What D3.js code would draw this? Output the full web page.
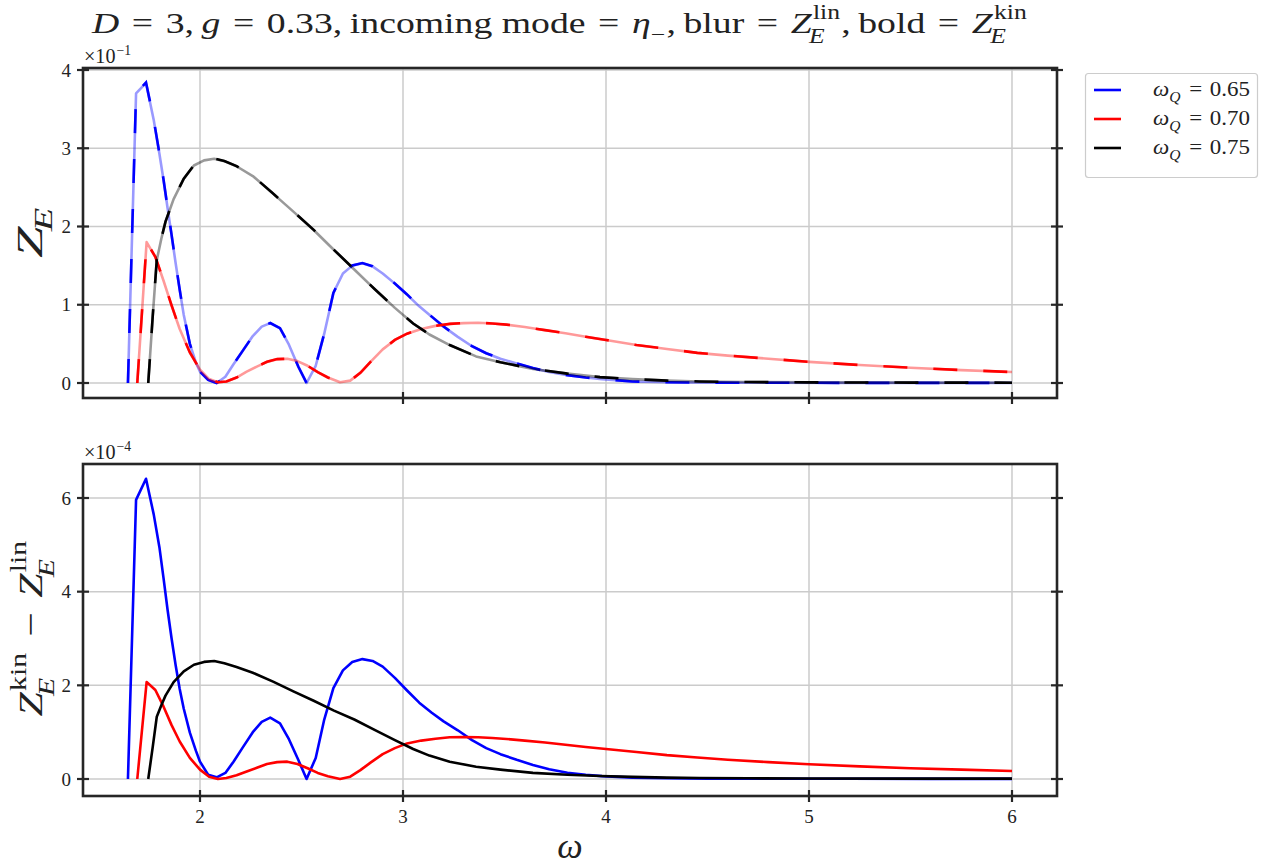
<!DOCTYPE html>
<html><head><meta charset="utf-8">
<script src="https://cdn.jsdelivr.net/npm/d3@7"></script>
<style>
html,body{margin:0;padding:0;background:#fff;}
text{font-family:"Liberation Serif","DejaVu Serif",serif;fill:#222;white-space:pre;}
</style></head>
<body><svg id="c" width="1271" height="868"></svg>
<script>
// ---------------- DATA ----------------
// omega_Q = 0.65 (blue)
const omega065 = [1.645,1.685,1.734,1.772,1.80,1.82,1.84,1.86,1.88,1.90,1.92,1.95,1.98,2.0,2.04,2.082,2.125,2.165,2.21,2.26,2.304,2.346,2.394,2.438,2.484,2.525,2.57,2.612,2.657,2.704,2.75,2.80,2.85,2.90,2.96,3.02,3.08,3.14,3.2,3.27,3.34,3.41,3.48,3.56,3.64,3.72,3.81,3.9,3.98,4.13,4.3,4.5,4.8,5.2,5.6,6.0];
// Z_E^lin in units of 1e-1
const zLin065 = [0,3.70,3.835,3.36,2.93,2.60,2.24,1.89,1.53,1.19,0.87,0.50,0.26,0.145,0.04,0.0,0.08,0.24,0.41,0.60,0.72,0.765,0.70,0.49,0.21,0,0.22,0.63,1.15,1.40,1.50,1.53,1.49,1.40,1.27,1.13,0.98,0.85,0.72,0.59,0.47,0.38,0.31,0.25,0.19,0.14,0.10,0.07,0.05,0.02,0.01,0.005,0.003,0.002,0.001,0.001];
// Z_E^kin - Z_E^lin in units of 1e-4
const dZ065 = [0,5.96,6.41,5.65,4.95,4.30,3.62,3.00,2.43,1.92,1.50,0.99,0.60,0.37,0.09,0.035,0.13,0.37,0.67,1.00,1.22,1.31,1.19,0.85,0.41,0,0.45,1.27,1.94,2.32,2.50,2.56,2.52,2.40,2.16,1.89,1.63,1.42,1.23,1.04,0.83,0.66,0.53,0.41,0.30,0.21,0.135,0.09,0.062,0.03,0.015,0.008,0.005,0.004,0.003,0.003];

// omega_Q = 0.70 (red)
const omega070 = [1.691,1.737,1.78,1.82,1.86,1.90,1.95,2.0,2.045,2.088,2.13,2.18,2.23,2.28,2.33,2.38,2.43,2.48,2.53,2.58,2.63,2.69,2.74,2.79,2.84,2.9,2.96,3.02,3.09,3.16,3.23,3.3,3.37,3.44,3.51,3.6,3.7,3.8,3.9,4.0,4.15,4.3,4.45,4.6,4.8,5.0,5.25,5.5,5.75,6.0];
const zLin070 = [0,1.80,1.61,1.31,0.99,0.69,0.39,0.17,0.05,0.01,0.02,0.07,0.145,0.21,0.27,0.305,0.31,0.28,0.22,0.14,0.07,0.01,0.03,0.13,0.27,0.43,0.55,0.63,0.69,0.73,0.755,0.765,0.77,0.76,0.745,0.715,0.675,0.635,0.59,0.55,0.485,0.435,0.385,0.35,0.31,0.27,0.23,0.195,0.165,0.14];
const dZ070 = [0,2.07,1.90,1.55,1.15,0.80,0.45,0.20,0.05,0.0,0.02,0.08,0.16,0.24,0.32,0.36,0.37,0.32,0.23,0.13,0.06,0.0,0.05,0.19,0.35,0.53,0.66,0.76,0.82,0.86,0.89,0.895,0.89,0.875,0.855,0.82,0.78,0.73,0.685,0.64,0.575,0.51,0.46,0.41,0.36,0.315,0.27,0.23,0.20,0.17];

// omega_Q = 0.75 (black)
const omega075 = [1.745,1.767,1.787,1.81,1.83,1.87,1.92,1.97,2.02,2.07,2.12,2.18,2.26,2.36,2.46,2.56,2.66,2.76,2.86,2.96,3.05,3.13,3.23,3.36,3.48,3.64,3.81,3.97,4.13,4.3,4.46,4.7,5.0,5.5,6.0];
const zLin075 = [0,0.85,1.57,1.85,2.06,2.35,2.61,2.78,2.845,2.865,2.835,2.77,2.645,2.42,2.19,1.955,1.70,1.45,1.20,0.96,0.76,0.62,0.485,0.34,0.265,0.18,0.12,0.075,0.05,0.03,0.02,0.012,0.008,0.005,0.004];
const dZ075 = [0,0.68,1.33,1.58,1.78,2.07,2.30,2.44,2.50,2.52,2.47,2.39,2.27,2.08,1.87,1.67,1.46,1.27,1.05,0.83,0.64,0.50,0.37,0.26,0.20,0.13,0.09,0.064,0.045,0.03,0.022,0.015,0.01,0.008,0.007];

const seriesLabels = ["0.65","0.70","0.75"];
const seriesColors = ["#0000ff","#ff0000","#000000"];
const xTicks = [2,3,4,5,6];
const yTicksTop = [0,1,2,3,4];
const yTicksBot = [0,2,4,6];
const topExponent = -1, botExponent = -4;

// ---------------- LAYOUT ----------------
const svg = d3.select("#c");
const L = 83, R = 1057;
const topBox = {t:68, b:398};
const botBox = {t:464, b:796};
const x = d3.scaleLinear().domain([1.4236, 6.2217]).range([L, R]);
const yTop = d3.scaleLinear().domain([-0.1917, 4.0256]).range([topBox.b, topBox.t]);
const yBot = d3.scaleLinear().domain([-0.363, 6.726]).range([botBox.b, botBox.t]);

const series = [
  {om: omega065, lin: zLin065, d: dZ065},
  {om: omega070, lin: zLin070, d: dZ070},
  {om: omega075, lin: zLin075, d: dZ075}
].map((s,i)=>({...s, color: seriesColors[i], label: seriesLabels[i]}));

const SP = "\u2004"; // math spacing around relations

// Math text helper (Computer-Modern-like layout approximated with Liberation Serif)
function mathText(parent, parts, size){
  const outer = parent.append("g");
  const g = outer.append("g");
  let cx = 0;
  parts.forEach(p=>{
    if (p.t){
      const t = g.append("text").attr("x",cx).attr("y",0)
        .style("font-size",size+"px").style("font-style",p.it?"italic":"normal").text(p.t);
      cx += t.node().getComputedTextLength();
    }
    if (p.sup || p.sub){
      let ws=0, wb=0;
      const ss = size*0.68;
      if (p.sup){
        const s = g.append("text").attr("x",cx+1).attr("y",-size*(p.sub?0.47:0.40))
          .style("font-size",ss+"px").text(p.sup);
        ws = s.node().getComputedTextLength();
      }
      if (p.sub){
        const s = g.append("text").attr("x",cx+(p.subdx||0)).attr("y",size*(p.sup?0.34:0.28))
          .style("font-size",ss+"px").style("font-style",p.subIt===false?"normal":"italic").text(p.sub);
        wb = s.node().getComputedTextLength() + (p.subdx||0);
      }
      cx += Math.max(ws+1,wb) + 1;
    }
  });
  return {outer, g, w: cx, fit(target){ g.attr("transform",`scale(${target/cx},1)`); this.w = target; return this; }};
}

function drawGrid(box, y, yTicks){
  const g = svg.append("g");
  g.selectAll(".gx").data(xTicks).join("line")
    .attr("x1",d=>x(d)).attr("x2",d=>x(d)).attr("y1",box.t).attr("y2",box.b)
    .attr("stroke","#cbcbcb").attr("stroke-width",1.5);
  g.selectAll(".gy").data(yTicks).join("line")
    .attr("x1",L).attr("x2",R).attr("y1",d=>y(d)).attr("y2",d=>y(d))
    .attr("stroke","#cbcbcb").attr("stroke-width",1.5);
  return g;
}
function drawFrame(box, y, yTicks, showXLabels){
  const g = svg.append("g");
  g.append("rect").attr("x",L).attr("y",box.t).attr("width",R-L).attr("height",box.b-box.t)
    .attr("fill","none").attr("stroke","#262626").attr("stroke-width",2.6);
  const tk = 6;
  yTicks.forEach(d=>{
    [L,R].forEach(xx=>{
      g.append("line").attr("x1",xx-tk).attr("x2",xx+tk).attr("y1",y(d)).attr("y2",y(d))
        .attr("stroke","#262626").attr("stroke-width",2.2);
    });
    g.append("text").attr("x",L-12).attr("y",y(d)).attr("dy","0.35em")
      .attr("text-anchor","end").style("font-size","19px").text(d);
  });
  xTicks.forEach(d=>{
    g.append("line").attr("x1",x(d)).attr("x2",x(d)).attr("y1",box.b-tk).attr("y2",box.b+tk)
      .attr("stroke","#262626").attr("stroke-width",2.2);
    if (showXLabels){
      g.append("text").attr("x",x(d)).attr("y",box.b+27).attr("text-anchor","middle")
        .style("font-size","19px").text(d);
    }
  });
  return g;
}

// ---------------- TOP PANEL ----------------
drawGrid(topBox, yTop, yTicksTop);
series.forEach(s=>{
  const linPts = s.om.map((o,i)=>({om:o, v:s.lin[i]}));
  // kin = lin + difference (difference in 1e-4, lin in 1e-1)
  const kinPts = s.om.map((o,i)=>({om:o, v:s.lin[i] + s.d[i]*Math.pow(10, botExponent-topExponent)}));
  const ln = d3.line().x(d=>x(d.om)).y(d=>yTop(d.v));
  svg.append("path").attr("d",ln(linPts)).attr("fill","none")
    .attr("stroke",s.color).attr("stroke-opacity",0.4).attr("stroke-width",2.6)
    .attr("stroke-linejoin","round");
  svg.append("path").attr("d",ln(kinPts)).attr("fill","none")
    .attr("stroke",s.color).attr("stroke-width",2.6).attr("stroke-dasharray","24,26");
});
drawFrame(topBox, yTop, yTicksTop, false);

// ---------------- BOTTOM PANEL ----------------
drawGrid(botBox, yBot, yTicksBot);
series.forEach(s=>{
  const pts = s.om.map((o,i)=>({om:o, v:s.d[i]}));
  const ln = d3.line().x(d=>x(d.om)).y(d=>yBot(d.v));
  svg.append("path").attr("d",ln(pts)).attr("fill","none")
    .attr("stroke",s.color).attr("stroke-width",2.6).attr("stroke-linejoin","round");
});
drawFrame(botBox, yBot, yTicksBot, true);

// ---------------- TEXTS ----------------
[[topBox, topExponent],[botBox, botExponent]].forEach(([b,e])=>{
  const m = mathText(svg, [{t:"×10", sup:"−"+Math.abs(e)}], 20).fit(48);
  m.outer.attr("transform",`translate(${L+1},${b.t-5})`);
});

// title
{
  const m = mathText(svg, [
    {t:"D",it:true},{t:SP+"="+SP+"3,\u2009"},{t:"g",it:true},{t:SP+"="+SP+"0.33,\u2009incoming mode"+SP+"="+SP},
    {t:"η",it:true, sub:"−", subIt:false},{t:",\u2009blur"+SP+"="+SP},
    {t:"Z",it:true, sup:"lin", sub:"E", subdx:-2},{t:",\u2009bold"+SP+"="+SP},
    {t:"Z",it:true, sup:"kin", sub:"E", subdx:-2}
  ], 30).fit(936);
  m.outer.attr("transform",`translate(${92},33)`);
}
// y label top
{
  const m = mathText(svg, [{t:"Z",it:true, sub:"E", subdx:-3}], 36).fit(52);
  m.outer.attr("transform",`translate(42,${(topBox.t+topBox.b)/2 - 1}) rotate(-90) translate(${-m.w/2},0)`);
}
// y label bottom
{
  const m = mathText(svg, [
    {t:"Z",it:true, sup:"kin", sub:"E", subdx:-3},{t:SP+"−"+SP},
    {t:"Z",it:true, sup:"lin", sub:"E", subdx:-3}
  ], 34).fit(177);
  m.outer.attr("transform",`translate(42,${(botBox.t+botBox.b)/2 - 2}) rotate(-90) translate(${-m.w/2},0)`);
}
// x label
{
  const m = mathText(svg, [{t:"ω",it:true}], 36);
  m.outer.attr("transform",`translate(${(L+R)/2 - m.w/2},858)`);
}

// legend
{
  const lg = svg.append("g");
  lg.append("rect").attr("x",1085.5).attr("y",73.5).attr("width",172).attr("height",104)
    .attr("rx",3).attr("fill","#fff").attr("stroke","#cccccc").attr("stroke-width",1.2);
  series.forEach((s,i)=>{
    const yy = 90 + i*29;
    lg.append("line").attr("x1",1094).attr("x2",1121).attr("y1",yy).attr("y2",yy)
      .attr("stroke",s.color).attr("stroke-width",2.6);
    const m = mathText(lg, [{t:"ω",it:true, sub:"Q"},{t:SP+"="+SP+s.label}], 22).fit(97);
    m.outer.attr("transform",`translate(${1250 - m.w},${yy+6})`);
  });
}
</script></body></html>
